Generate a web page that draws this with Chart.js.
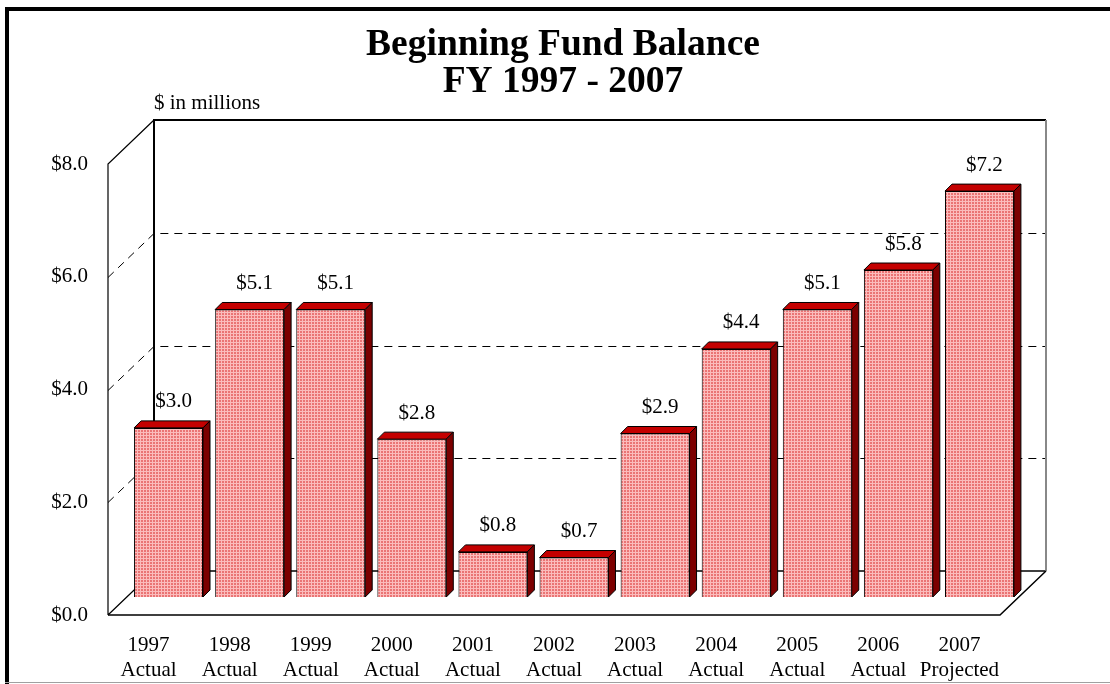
<!DOCTYPE html>
<html>
<head>
<meta charset="utf-8">
<script src="https://cdn.jsdelivr.net/npm/chart.js@4/dist/chart.umd.min.js"></script>
<style>
  html, body { margin: 0; padding: 0; background: #fff; }
  canvas { display: block; }
</style>
</head>
<body>
<canvas id="c" width="1110" height="684"></canvas>
<script>
// ---- data ----
const years = ['1997','1998','1999','2000','2001','2002','2003','2004','2005','2006','2007'];
const status = ['Actual','Actual','Actual','Actual','Actual','Actual','Actual','Actual','Actual','Actual','Projected'];
const balances = [3.0, 5.1, 5.1, 2.8, 0.8, 0.7, 2.9, 4.4, 5.1, 5.8, 7.2];
const yTicks = [0, 2, 4, 6, 8];
const titleLines = ['Beginning Fund Balance', 'FY 1997 - 2007'];
const unitLabel = '$ in millions';

const categories = years.map((y, i) => [y, status[i]]);
const FONT = 'Liberation Serif';

// geometry of the oblique "3-D" look
const WALL = { dx: 46, dy: -44 };
const BARPLANE = { dx: 20, dy: -18 };
const BARDEPTH = { dx: 7, dy: -7 };

function makePattern() {
  const c = document.createElement('canvas');
  c.width = 3; c.height = 3;
  const g = c.getContext('2d');
  g.fillStyle = '#ea7474'; g.fillRect(0, 0, 3, 3);
  g.fillStyle = '#fbbcbc'; g.fillRect(0, 0, 3, 1); g.fillRect(0, 0, 1, 3);
  return g.createPattern(c, 'repeat');
}

const frame3d = {
  id: 'frame3d',
  beforeDatasetsDraw(chart) {
    const ctx = chart.ctx;
    const xs = chart.scales.x, ys = chart.scales.y;
    const L = xs.left, R = xs.right;
    const y0 = ys.getPixelForValue(0), yTop = ys.getPixelForValue(ys.max);
    ctx.save();
    // outer border
    ctx.fillStyle = '#000';
    ctx.fillRect(5, 7, 1105, 4);
    ctx.fillRect(5, 7, 4, 677);
    ctx.fillStyle = '#a0a0a0';
    ctx.fillRect(5, 682, 1105, 1);

    ctx.lineWidth = 1;
    ctx.strokeStyle = '#000';
    // dashed grid (side wall + back wall)
    ctx.setLineDash([8, 6]);
    ys.ticks.forEach(t => {
      if (t.value === 0 || t.value === ys.max) return;
      const py = Math.round(ys.getPixelForValue(t.value)) + 0.5;
      ctx.beginPath();
      ctx.moveTo(L, py);
      ctx.lineTo(L + WALL.dx, py + WALL.dy);
      ctx.lineTo(R + WALL.dx, py + WALL.dy);
      ctx.stroke();
    });
    ctx.setLineDash([]);
    // side wall edges
    ctx.lineWidth = 1.2;
    ctx.beginPath();
    ctx.moveTo(L, y0); ctx.lineTo(L, yTop); ctx.lineTo(L + WALL.dx, yTop + WALL.dy);
    ctx.moveTo(L, y0); ctx.lineTo(L + WALL.dx, y0 + WALL.dy);
    ctx.stroke();
    // back wall
    ctx.lineWidth = 2;
    ctx.beginPath();
    ctx.moveTo(L + WALL.dx, y0 + WALL.dy); ctx.lineTo(L + WALL.dx, yTop + WALL.dy);
    ctx.lineTo(R + WALL.dx, yTop + WALL.dy);
    ctx.stroke();
    ctx.lineWidth = 1.5;
    ctx.beginPath();
    ctx.moveTo(L + WALL.dx, y0 + WALL.dy); ctx.lineTo(R + WALL.dx, y0 + WALL.dy);
    ctx.stroke();
    ctx.strokeStyle = '#888';
    ctx.lineWidth = 2;
    ctx.beginPath();
    ctx.moveTo(R + WALL.dx, y0 + WALL.dy); ctx.lineTo(R + WALL.dx, yTop + WALL.dy);
    ctx.stroke();
    // floor
    ctx.strokeStyle = '#000';
    ctx.lineWidth = 1.5;
    ctx.beginPath();
    ctx.moveTo(L, y0); ctx.lineTo(R, y0); ctx.lineTo(R + WALL.dx, y0 + WALL.dy);
    ctx.stroke();
    // unit label
    ctx.fillStyle = '#000';
    ctx.font = '21px "' + FONT + '"';
    ctx.textAlign = 'left';
    ctx.textBaseline = 'middle';
    ctx.fillText(unitLabel, L + WALL.dx, 103);
    ctx.restore();

    ctx.save();
    ctx.translate(BARPLANE.dx, BARPLANE.dy);
  },
  afterDatasetsDraw(chart) {
    const ctx = chart.ctx;
    const meta = chart.getDatasetMeta(0);
    ctx.lineWidth = 1;
    ctx.strokeStyle = '#000';
    meta.data.forEach(bar => {
      const p = bar.getProps(['x', 'y', 'base', 'width'], true);
      const l = p.x - p.width / 2, r = p.x + p.width / 2;
      const t = p.y, b = p.base;
      // top face
      ctx.beginPath();
      ctx.moveTo(l, t); ctx.lineTo(l + BARDEPTH.dx, t + BARDEPTH.dy);
      ctx.lineTo(r + BARDEPTH.dx, t + BARDEPTH.dy); ctx.lineTo(r, t); ctx.closePath();
      ctx.fillStyle = '#c40000'; ctx.fill(); ctx.stroke();
      // side face
      ctx.beginPath();
      ctx.moveTo(r, t); ctx.lineTo(r + BARDEPTH.dx, t + BARDEPTH.dy);
      ctx.lineTo(r + BARDEPTH.dx, b + BARDEPTH.dy); ctx.lineTo(r, b); ctx.closePath();
      ctx.fillStyle = '#7c0000'; ctx.fill(); ctx.stroke();
    });
    // value labels
    ctx.fillStyle = '#000';
    ctx.font = '21px "' + FONT + '"';
    ctx.textAlign = 'center';
    ctx.textBaseline = 'middle';
    meta.data.forEach((bar, i) => {
      const p = bar.getProps(['x', 'y'], true);
      ctx.fillText('$' + balances[i].toFixed(1), p.x + 5, p.y - 26);
    });
    ctx.restore();
  }
};

new Chart(document.getElementById('c'), {
  type: 'bar',
  data: {
    labels: categories,
    datasets: [{
      data: balances,
      backgroundColor: makePattern(),
      borderColor: '#000',
      borderWidth: 1,
      barPercentage: 0.85,
      categoryPercentage: 1.0,
      clip: false
    }]
  },
  options: {
    responsive: false,
    devicePixelRatio: 1,
    animation: false,
    layout: { padding: { left: 16, right: 0, top: 0, bottom: 0 } },
    plugins: {
      legend: { display: false },
      tooltip: { enabled: false },
      title: {
        display: true,
        text: titleLines,
        color: '#000',
        font: { family: FONT, size: 37.5, weight: 'bold', lineHeight: 37 / 37.5 },
        padding: { top: 27, bottom: 63 }
      }
    },
    scales: {
      x: {
        type: 'category',
        offset: true,
        grid: { display: false, drawTicks: false },
        border: { display: false },
        ticks: { color: '#000', font: { family: FONT, size: 21, lineHeight: 25 / 21 }, padding: 18, maxRotation: 0, autoSkip: false },
        afterFit(s) { s.height = 69; }
      },
      y: {
        min: 0, max: 8,
        afterBuildTicks(s) { s.ticks = yTicks.map(v => ({ value: v })); },
        grid: { display: false, drawTicks: false },
        border: { display: false },
        ticks: { color: '#000', font: { family: FONT, size: 21 }, padding: 20, callback: v => '$' + Number(v).toFixed(1) },
        afterFit(s) { s.width = 92; }
      },
      y2: {
        position: 'right',
        display: true,
        grid: { display: false, drawTicks: false },
        border: { display: false },
        ticks: { display: false },
        afterFit(s) { s.width = 110; }
      }
    }
  },
  plugins: [frame3d]
});
</script>
</body>
</html>
